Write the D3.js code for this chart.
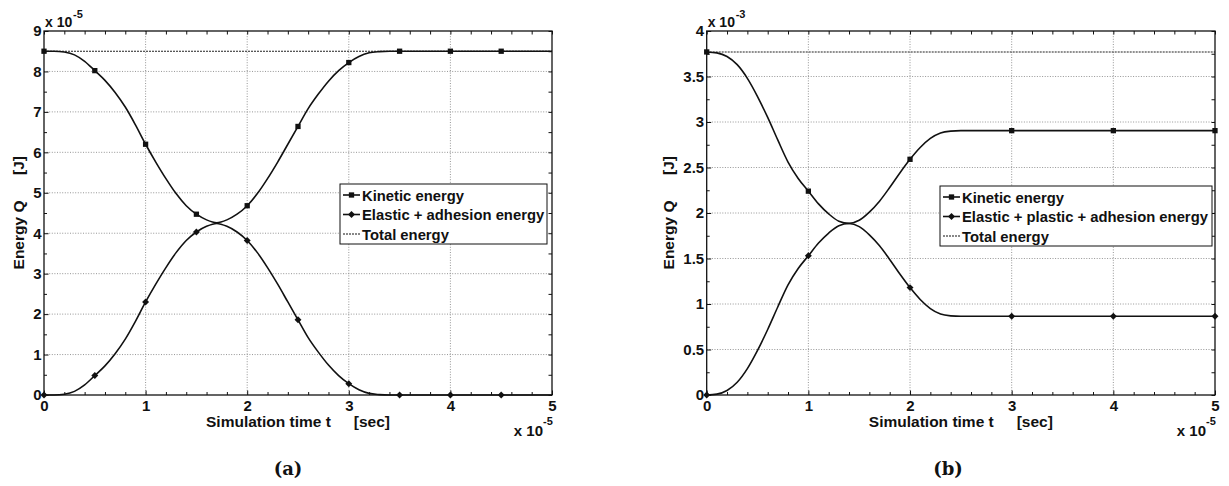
<!DOCTYPE html>
<html><head><meta charset="utf-8">
<script src="https://cdn.jsdelivr.net/npm/d3@7"></script>
<style>
body{margin:0;background:#fff}
svg{display:block}
</style>
</head><body>
<svg id="c" width="1229" height="486"></svg>
<script>
// ---------- data ----------
const time = [0,0.1,0.2,0.3,0.4,0.5,0.6,0.7,0.8,0.9,
  1,1.1,1.2,1.3,1.4,1.5,1.6,1.7,1.8,1.9,
  2,2.1,2.2,2.3,2.4,2.5,2.6,2.7,2.8,2.9,
  3,3.1,3.2,3.3,3.4,3.5,3.6,3.7,3.8,3.9,
  4,4.1,4.2,4.3,4.4,4.5,4.6,4.7,4.8,4.9,5];

// panel (a), values x 1e-5 J
const kineticA = [8.50,8.50,8.48,8.41,8.25,8.02,7.78,7.48,7.12,6.68,
  6.20,5.76,5.35,4.98,4.68,4.47,4.33,4.26,4.33,4.47,
  4.68,4.98,5.35,5.76,6.20,6.64,7.08,7.44,7.76,8.02,
  8.22,8.37,8.46,8.49,8.50,8.50,8.50,8.50,8.50,8.50,
  8.50,8.50,8.50,8.50,8.50,8.50,8.50,8.50,8.50,8.50,8.50];
const elasticA = [0.00,0.00,0.02,0.09,0.25,0.48,0.72,1.02,1.38,1.82,
  2.30,2.74,3.15,3.52,3.82,4.03,4.17,4.24,4.17,4.03,
  3.82,3.52,3.15,2.74,2.30,1.86,1.42,1.06,0.74,0.48,
  0.28,0.13,0.04,0.01,0.00,0.00,0.00,0.00,0.00,0.00,
  0.00,0.00,0.00,0.00,0.00,0.00,0.00,0.00,0.00,0.00,0.00];
const totalA = 8.5;
const markerTimesA = [0,0.5,1,1.5,2,2.5,3,3.5,4,4.5];
const yTicksA = [0,1,2,3,4,5,6,7,8,9];
const yMinorA = [0.5,1.5,2.5,3.5,4.5,5.5,6.5,7.5,8.5];

// panel (b), values x 1e-3 J
const kineticB = [3.77,3.76,3.72,3.63,3.48,3.28,3.05,2.80,2.56,2.38,
  2.24,2.10,1.99,1.91,1.886,1.92,2.01,2.13,2.28,2.44,
  2.59,2.72,2.82,2.88,2.90,2.905,2.905,2.905,2.905,2.905,
  2.905,2.905,2.905,2.905,2.905,2.905,2.905,2.905,2.905,2.905,
  2.905,2.905,2.905,2.905,2.905,2.905,2.905,2.905,2.905,2.905,2.905];
const elasticB = [0.00,0.01,0.05,0.14,0.29,0.49,0.72,0.97,1.21,1.39,
  1.53,1.67,1.78,1.86,1.884,1.85,1.76,1.64,1.49,1.33,
  1.18,1.05,0.95,0.89,0.87,0.865,0.865,0.865,0.865,0.865,
  0.865,0.865,0.865,0.865,0.865,0.865,0.865,0.865,0.865,0.865,
  0.865,0.865,0.865,0.865,0.865,0.865,0.865,0.865,0.865,0.865,0.865];
const totalB = 3.77;
const markerTimesB = [0,1,2,3,4,5];
const yTicksB = [0,0.5,1,1.5,2,2.5,3,3.5,4];
const yMinorB = [0.25,0.75,1.25,1.75,2.25,2.75,3.25,3.75];

const xTicks = [0,1,2,3,4,5];
const xMinor = [0.2,0.4,0.6,0.8,1.2,1.4,1.6,1.8,2.2,2.4,2.6,2.8,3.2,3.4,3.6,3.8,4.2,4.4,4.6,4.8];

const legendA = ["Kinetic energy","Elastic + adhesion energy","Total energy"];
const legendB = ["Kinetic energy","Elastic + plastic + adhesion energy","Total energy"];
const xLabel = "Simulation time t", xUnit = "[sec]";
const yLabel = "Energy Q", yUnit = "[J]";
const expA = "-5", expB = "-3", expX = "-5";
const captions = ["(a)","(b)"];

// ---------- drawing ----------
const SANS = '"Liberation Sans",Arial,Helvetica,sans-serif';
const svg = d3.select("#c");
svg.append("rect").attr("width",1229).attr("height",486).attr("fill","#fff");

function txt(sel, size){
  return sel.style("font-family",SANS).style("font-weight","bold").style("font-size",size+"px").attr("fill","#111");
}

function panel(cfg){
  const g = svg.append("g");
  const x = d3.scaleLinear().domain([0,5]).range([cfg.left,cfg.right]);
  const y = d3.scaleLinear().domain([0,cfg.ymax]).range([cfg.bottom,cfg.top]);

  // grid
  g.append("g").selectAll("line").data(xTicks.slice(1,-1)).join("line")
    .attr("x1",d=>x(d)).attr("x2",d=>x(d)).attr("y1",cfg.top).attr("y2",cfg.bottom)
    .attr("stroke","#8a8a8a").attr("stroke-width",0.9).attr("stroke-dasharray","1,1.6");
  g.append("g").selectAll("line").data(cfg.yTicks.slice(1,-1)).join("line")
    .attr("y1",d=>y(d)).attr("y2",d=>y(d)).attr("x1",cfg.left).attr("x2",cfg.right)
    .attr("stroke","#8a8a8a").attr("stroke-width",0.9).attr("stroke-dasharray","1,1.6");

  // total energy
  g.append("line").attr("x1",x(0)).attr("x2",x(5)).attr("y1",y(cfg.total)).attr("y2",y(cfg.total))
    .attr("stroke","#222").attr("stroke-width",1.1).attr("stroke-dasharray","2,1");

  // curves
  const line = d3.line().x((d,i)=>x(time[i])).y(d=>y(d)).curve(d3.curveMonotoneX);
  g.append("path").attr("d",line(cfg.kinetic)).attr("fill","none").attr("stroke","#111").attr("stroke-width",1.6);
  g.append("path").attr("d",line(cfg.elastic)).attr("fill","none").attr("stroke","#111").attr("stroke-width",1.6);

  // markers
  const idx = cfg.markerTimes.map(t=>time.findIndex(v=>Math.abs(v-t)<1e-9));
  const sq = d3.symbol(d3.symbolSquare,28), dia = d3.symbol(d3.symbolSquare,24);
  g.append("g").selectAll("path").data(idx).join("path")
    .attr("transform",i=>`translate(${x(time[i])},${y(cfg.kinetic[i])})`).attr("d",sq).attr("fill","#111");
  g.append("g").selectAll("path").data(idx).join("path")
    .attr("transform",i=>`translate(${x(time[i])},${y(cfg.elastic[i])}) rotate(45)`).attr("d",dia).attr("fill","#111");

  // axes box
  g.append("rect").attr("x",cfg.left).attr("y",cfg.top).attr("width",cfg.right-cfg.left).attr("height",cfg.bottom-cfg.top)
    .attr("fill","none").attr("stroke","#111").attr("stroke-width",1.3);

  function styleAxis(sel){
    sel.select(".domain").remove();
    sel.selectAll(".tick line").attr("stroke","#111").attr("stroke-width",1);
    txt(sel.selectAll("text"),15);
  }
  const fmt = d3.format("~g");
  g.append("g").attr("transform",`translate(0,${cfg.bottom})`)
    .call(d3.axisBottom(x).tickValues(xTicks).tickSize(-4.5).tickPadding(5).tickFormat(fmt)).call(styleAxis);
  g.append("g").attr("transform",`translate(0,${cfg.bottom})`)
    .call(d3.axisBottom(x).tickValues(xMinor).tickSize(-3).tickFormat("")).call(styleAxis);
  g.append("g").attr("transform",`translate(0,${cfg.top})`)
    .call(d3.axisTop(x).tickValues(xTicks.concat(xMinor)).tickSize(-3.5).tickFormat("")).call(styleAxis);
  g.append("g").attr("transform",`translate(${cfg.left},0)`)
    .call(d3.axisLeft(y).tickValues(cfg.yTicks).tickSize(-4.5).tickPadding(2.5).tickFormat(fmt)).call(styleAxis);
  g.append("g").attr("transform",`translate(${cfg.left},0)`)
    .call(d3.axisLeft(y).tickValues(cfg.yMinor).tickSize(-3).tickFormat("")).call(styleAxis);
  g.append("g").attr("transform",`translate(${cfg.right},0)`)
    .call(d3.axisRight(y).tickValues(cfg.yTicks.concat(cfg.yMinor)).tickSize(-3.5).tickFormat("")).call(styleAxis);

  // exponent labels
  txt(g.append("text").attr("x",cfg.left+1).attr("y",27),14).text("x 10");
  txt(g.append("text").attr("x",cfg.left+29).attr("y",18),11).text(cfg.exp);
  txt(g.append("text").attr("x",cfg.right-9).attr("y",436).attr("text-anchor","end"),15).text("x 10");
  txt(g.append("text").attr("x",cfg.right-9).attr("y",425),11).text(expX);

  // axis labels
  const cx = (cfg.left+cfg.right)/2;
  txt(g.append("text").attr("x",cx-92).attr("y",427),15.5).text(xLabel);
  txt(g.append("text").attr("x",cx+92).attr("y",427).attr("text-anchor","end"),15.5).text(xUnit);
  txt(g.append("text").attr("transform",`translate(${cfg.ylx},235) rotate(-90)`).attr("text-anchor","middle"),15.5).text(yLabel);
  txt(g.append("text").attr("transform",`translate(${cfg.ylx},165.5) rotate(-90)`).attr("text-anchor","middle"),15.5).text(yUnit);

  // legend
  const L = cfg.legend;
  const lg = g.append("g");
  lg.append("rect").attr("x",L.x).attr("y",L.y).attr("width",L.w).attr("height",60)
    .attr("fill","#fff").attr("stroke","#111").attr("stroke-width",1);
  cfg.legendText.forEach((t,i)=>{
    const cy = L.y + 11 + i*19.5;
    lg.append("line").attr("x1",L.x+3).attr("x2",L.x+20).attr("y1",cy).attr("y2",cy)
      .attr("stroke","#111").attr("stroke-width", i===2?1:1.6).attr("stroke-dasharray", i===2?"2,1":null);
    if(i===0) lg.append("path").attr("transform",`translate(${L.x+11.5},${cy})`).attr("d",sq).attr("fill","#111");
    if(i===1) lg.append("path").attr("transform",`translate(${L.x+11.5},${cy}) rotate(45)`).attr("d",dia).attr("fill","#111");
    txt(lg.append("text").attr("x",L.x+22).attr("y",cy+5.5),14.8).text(t);
  });

  // caption
  svg.append("text").attr("x",cfg.capx).attr("y",475).attr("text-anchor","middle")
    .style("font-family",'"DejaVu Serif",serif').style("font-size","18px").style("font-weight","bold")
    .attr("fill","#111").text(cfg.caption);
}

panel({left:44,right:552,top:31,bottom:395,ymax:9,yTicks:yTicksA,yMinor:yMinorA,
  kinetic:kineticA,elastic:elasticA,total:totalA,markerTimes:markerTimesA,exp:expA,
  legend:{x:340,y:184,w:207},legendText:legendA,ylx:24,capx:288,caption:captions[0]});
panel({left:706.7,right:1215,top:31,bottom:395,ymax:4,yTicks:yTicksB,yMinor:yMinorB,
  kinetic:kineticB,elastic:elasticB,total:totalB,markerTimes:markerTimesB,exp:expB,
  legend:{x:940,y:186,w:272},legendText:legendB,ylx:674,capx:948,caption:captions[1]});
</script>
</body></html>
